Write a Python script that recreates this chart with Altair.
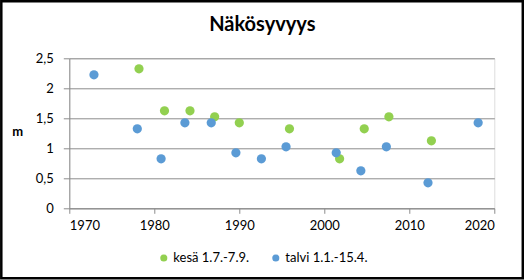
import altair as alt
import pandas as pd

title_text = "Näkösyvyys"
kesa_label = "kesä 1.7.-7.9."
talvi_label = "talvi 1.1.-15.4."

kesa_years = [1978.2, 1981.2, 1984.2, 1987.1, 1990.0, 1995.9, 2001.8, 2004.7, 2007.6, 2012.6]
kesa_vals = [2.3, 1.6, 1.6, 1.5, 1.4, 1.3, 0.8, 1.3, 1.5, 1.1]
talvi_years = [1972.9, 1978.0, 1980.8, 1983.6, 1986.7, 1989.6, 1992.6, 1995.5, 2001.4, 2004.3, 2007.3, 2012.2, 2018.1]
talvi_vals = [2.2, 1.3, 0.8, 1.4, 1.4, 0.9, 0.8, 1.0, 0.9, 0.6, 1.0, 0.4, 1.4]

x_ticks = [1970, 1980, 1990, 2000, 2010, 2020]
y_ticks = [0, 0.5, 1, 1.5, 2, 2.5]

df = pd.DataFrame({
    "vuosi": kesa_years + talvi_years,
    "m": kesa_vals + talvi_vals,
    "sarja": [kesa_label] * len(kesa_years) + [talvi_label] * len(talvi_years),
})

FONT = "Lato"
GRID = "#8c8c8c"

points = alt.Chart(df).mark_circle(size=85, opacity=1, yOffset=-1.5).encode(
    x=alt.X("vuosi:Q",
            scale=alt.Scale(domain=[1970, 2020], nice=False, zero=False),
            axis=alt.Axis(values=x_ticks, format="d", title=None, grid=False,
                          domainColor=GRID, tickColor=GRID, tickSize=5,
                          labelPadding=6, labelFontSize=13, labelFont=FONT,
                          labelColor="#000")),
    y=alt.Y("m:Q",
            scale=alt.Scale(domain=[0, 2.5], nice=False),
            axis=alt.Axis(values=y_ticks, title="m", titleAngle=0,
                          titleX=-52, titleY=73, titleAlign="center",
                          titleBaseline="middle", titleFontSize=13,
                          titleFont=FONT, titleFontWeight="bold",
                          labelExpr="replace(format(datum.value, '.2~f'), '.', ',')",
                          grid=True, gridColor=GRID, gridWidth=1,
                          domainColor=GRID, tickColor=GRID, tickSize=6,
                          labelPadding=10, labelFontSize=13, labelFont=FONT,
                          labelColor="#000")),
    color=alt.Color("sarja:N",
                    scale=alt.Scale(domain=[kesa_label, talvi_label],
                                    range=["#92D050", "#5B9BD5"]),
                    legend=alt.Legend(title=None, orient="none", direction="horizontal",
                                      legendX=88, legendY=193, padding=0,
                                      symbolType="circle", symbolSize=50,
                                      symbolStrokeWidth=0, labelFontSize=13,
                                      labelFont=FONT, labelOffset=3,
                                      columnPadding=20, symbolOpacity=1)),
)

title = alt.Chart(pd.DataFrame({"t": [title_text]})).mark_text(
    fontSize=20, font=FONT, fontWeight="bold", align="center",
    baseline="alphabetic", color="#000", clip=False
).encode(
    text="t:N", x=alt.value(193), y=alt.value(-27),
)

border = alt.Chart(pd.DataFrame({"k": [0]})).mark_rect(
    fill=None, stroke="black", strokeWidth=2.5, clip=False
).encode(
    x=alt.value(-68.0), x2=alt.value(453.5),
    y=alt.value(-57.0), y2=alt.value(220.0),
)

chart = alt.layer(points, title, border).properties(
    width=425, height=150,
    autosize=alt.AutoSizeParams(type="none"),
    padding={"left": 69.3, "top": 58.3, "right": 29.7, "bottom": 71.7},
).configure_view(stroke=None).configure(background="white")

chart.save("out.html", embed_options={"renderer": "svg", "actions": False})
